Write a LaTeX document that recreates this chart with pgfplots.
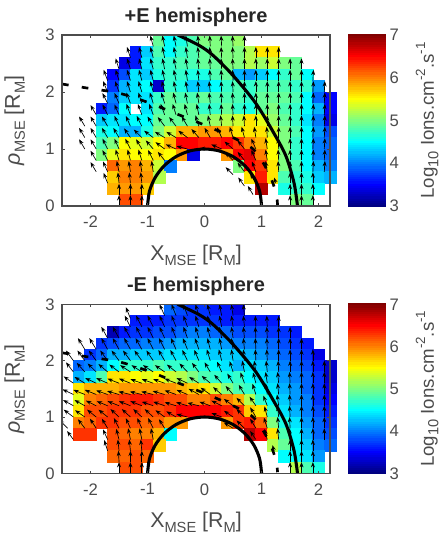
\documentclass[border=0pt]{standalone}
\usepackage{pgfplots}
\usepackage{pgfplotstable}
\usepackage{fontspec}
\setmainfont{Liberation Sans}
\pgfplotsset{compat=1.18}
\usetikzlibrary{arrows.meta}
\definecolor{axgray}{gray}{0.3}
\newcommand\lsub[1]{\raisebox{-0.45ex}{\fontsize{11}{11}\selectfont #1}}
\newcommand\lsup[1]{\raisebox{0.9ex}{\fontsize{10}{10}\selectfont #1}}
% cell values, +E hemisphere
\pgfplotstableread[row sep=\\]{
x y c\\
-0.8 2.9 4.9\\ -0.6 2.9 4.5\\ -0.4 2.9 4.6\\ -0.2 2.9 4.8\\ 0 2.9 5.0\\ 0.2 2.9 5.0\\ 0.4 2.9 5.0\\ 0.6 2.9 5.1\\
-1.2 2.7 3.6\\ -1.0 2.7 4.3\\ -0.8 2.7 4.8\\ -0.6 2.7 4.5\\ -0.4 2.7 4.7\\ -0.2 2.7 4.8\\ 0 2.7 4.9\\ 0.2 2.7 5.0\\ 0.4 2.7 5.0\\ 0.6 2.7 5.0\\ 0.8 2.7 5.2\\ 1.0 2.7 5.6\\ 1.2 2.7 5.6\\
-1.4 2.5 3.4\\ -1.2 2.5 3.6\\ -1.0 2.5 4.4\\ -0.8 2.5 4.7\\ -0.6 2.5 4.7\\ -0.4 2.5 4.8\\ -0.2 2.5 4.8\\ 0 2.5 4.9\\ 0.2 2.5 4.9\\ 0.4 2.5 5.0\\ 0.6 2.5 5.0\\ 0.8 2.5 5.2\\ 1.0 2.5 5.1\\ 1.2 2.5 5.3\\ 1.4 2.5 5.0\\ 1.6 2.5 4.9\\
-1.6 2.3 3.5\\ -1.4 2.3 3.8\\ -1.2 2.3 4.4\\ -1.0 2.3 4.3\\ -0.8 2.3 4.6\\ -0.6 2.3 4.7\\ -0.4 2.3 4.7\\ -0.2 2.3 4.6\\ 0 2.3 4.6\\ 0.2 2.3 4.8\\ 0.4 2.3 4.9\\ 0.6 2.3 4.2\\ 0.8 2.3 4.1\\ 1.0 2.3 4.3\\ 1.2 2.3 4.5\\ 1.4 2.3 4.7\\ 1.6 2.3 4.9\\ 1.8 2.3 4.5\\
-1.6 2.1 3.7\\ -1.4 2.1 4.2\\ -1.2 2.1 4.4\\ -1.0 2.1 4.5\\ -0.8 2.1 3.3\\ -0.6 2.1 4.7\\ -0.4 2.1 4.6\\ -0.2 2.1 4.3\\ 0 2.1 4.3\\ 0.2 2.1 4.5\\ 0.4 2.1 4.7\\ 0.6 2.1 4.8\\ 0.8 2.1 4.7\\ 1.0 2.1 4.8\\ 1.2 2.1 4.8\\ 1.4 2.1 4.8\\ 1.6 2.1 4.7\\ 1.8 2.1 4.7\\ 2.0 2.1 4.1\\
-1.6 1.9 4.0\\ -1.4 1.9 4.3\\ -1.2 1.9 4.4\\ -1.0 1.9 4.4\\ -0.8 1.9 4.7\\ -0.6 1.9 4.9\\ -0.4 1.9 4.8\\ -0.2 1.9 4.8\\ 0 1.9 4.9\\ 0.2 1.9 4.8\\ 0.4 1.9 4.8\\ 0.6 1.9 4.8\\ 0.8 1.9 4.7\\ 1.0 1.9 4.9\\ 1.2 1.9 4.9\\ 1.4 1.9 4.9\\ 1.6 1.9 4.8\\ 1.8 1.9 4.5\\ 2.0 1.9 3.9\\ 2.2 1.9 3.5\\
-1.8 1.7 3.6\\ -1.6 1.7 3.9\\ -1.4 1.7 4.5\\ -1.0 1.7 4.4\\ -0.8 1.7 4.8\\ -0.6 1.7 4.9\\ -0.4 1.7 4.9\\ -0.2 1.7 4.9\\ 0 1.7 4.7\\ 0.2 1.7 4.7\\ 0.4 1.7 4.9\\ 0.6 1.7 4.7\\ 0.8 1.7 4.6\\ 1.0 1.7 4.9\\ 1.2 1.7 5.0\\ 1.4 1.7 4.8\\ 1.6 1.7 4.7\\ 1.8 1.7 4.5\\ 2.0 1.7 4.2\\ 2.2 1.7 3.5\\
-1.8 1.5 4.3\\ -1.6 1.5 4.4\\ -1.4 1.5 4.4\\ -1.2 1.5 4.5\\ -1.0 1.5 4.5\\ -0.8 1.5 4.9\\ -0.6 1.5 4.9\\ -0.4 1.5 4.9\\ -0.2 1.5 4.9\\ 0 1.5 5.0\\ 0.2 1.5 5.1\\ 0.4 1.5 5.2\\ 0.6 1.5 5.3\\ 0.8 1.5 5.6\\ 1.0 1.5 5.4\\ 1.2 1.5 5.1\\ 1.4 1.5 4.9\\ 1.6 1.5 4.7\\ 1.8 1.5 4.4\\ 2.0 1.5 4.0\\ 2.2 1.5 3.4\\
-1.8 1.3 4.6\\ -1.6 1.3 4.5\\ -1.4 1.3 4.2\\ -1.2 1.3 4.2\\ -1.0 1.3 4.6\\ -0.8 1.3 5.0\\ -0.6 1.3 5.3\\ -0.4 1.3 5.8\\ -0.2 1.3 5.8\\ 0 1.3 5.9\\ 0.2 1.3 5.9\\ 0.4 1.3 5.8\\ 0.6 1.3 5.6\\ 0.8 1.3 5.6\\ 1.0 1.3 5.6\\ 1.2 1.3 5.3\\ 1.4 1.3 5.0\\ 1.6 1.3 4.8\\ 1.8 1.3 4.5\\ 2.0 1.3 4.1\\ 2.2 1.3 3.8\\
-1.8 1.1 4.8\\ -1.6 1.1 5.0\\ -1.4 1.1 5.5\\ -1.2 1.1 5.4\\ -1.0 1.1 5.3\\ -0.8 1.1 5.5\\ -0.6 1.1 5.8\\ -0.4 1.1 6.5\\ -0.2 1.1 6.5\\ 0 1.1 6.4\\ 0.2 1.1 6.4\\ 0.4 1.1 6.5\\ 0.6 1.1 6.3\\ 0.8 1.1 6.0\\ 1.0 1.1 5.8\\ 1.2 1.1 5.5\\ 1.4 1.1 5.0\\ 1.6 1.1 4.7\\ 1.8 1.1 4.5\\ 2.0 1.1 4.0\\ 2.2 1.1 3.9\\
-1.8 0.9 5.0\\ -1.6 0.9 5.4\\ -1.4 0.9 5.6\\ -1.2 0.9 5.5\\ -1.0 0.9 5.5\\ -0.8 0.9 5.6\\ -0.6 0.9 5.5\\ -0.4 0.9 5.9\\ -0.2 0.9 3.4\\ 0.4 0.9 5.9\\ 0.6 0.9 6.5\\ 0.8 0.9 6.6\\ 1.0 0.9 6.0\\ 1.2 0.9 5.5\\ 1.4 0.9 5.0\\ 1.6 0.9 4.7\\ 1.8 0.9 4.5\\ 2.0 0.9 4.0\\ 2.2 0.9 3.9\\
-1.6 0.7 6.1\\ -1.4 0.7 5.9\\ -1.2 0.7 6.0\\ -1.0 0.7 5.8\\ -0.8 0.7 5.3\\ -0.6 0.7 4.0\\ 0.6 0.7 5.0\\ 0.8 0.7 6.5\\ 1.0 0.7 6.3\\ 1.2 0.7 5.6\\ 1.4 0.7 5.0\\ 1.6 0.7 4.8\\ 1.8 0.7 4.5\\ 2.0 0.7 4.2\\ 2.2 0.7 4.0\\
-1.6 0.5 5.7\\ -1.4 0.5 6.0\\ -1.2 0.5 6.0\\ -1.0 0.5 5.9\\ -0.8 0.5 5.2\\ 0.8 0.5 5.6\\ 1.0 0.5 6.4\\ 1.2 0.5 5.6\\ 1.4 0.5 4.8\\ 1.6 0.5 4.7\\ 1.8 0.5 4.6\\ 2.0 0.5 4.3\\ 2.2 0.5 4.2\\
-1.6 0.3 5.8\\ -1.4 0.3 5.9\\ -1.2 0.3 5.9\\ -1.0 0.3 5.7\\ 1.0 0.3 6.8\\ 1.4 0.3 4.6\\ 1.6 0.3 4.7\\ 1.8 0.3 4.7\\ 2.0 0.3 4.5\\
-1.4 0.1 6.2\\ -1.2 0.1 6.2\\ 1.6 0.1 5.0\\ 1.8 0.1 4.9\\
}\cellsA
% cell values, -E hemisphere
\pgfplotstableread[row sep=\\]{
x y c\\
-0.6 2.9 3.9\\ -0.4 2.9 3.8\\ -0.2 2.9 3.7\\ 0 2.9 3.7\\ 0.2 2.9 3.6\\ 0.4 2.9 3.6\\ 0.6 2.9 3.4\\
-1.2 2.7 3.6\\ -1.0 2.7 3.6\\ -0.8 2.7 3.6\\ -0.6 2.7 3.7\\ -0.4 2.7 3.7\\ -0.2 2.7 3.7\\ 0 2.7 3.7\\ 0.2 2.7 3.7\\ 0.4 2.7 3.6\\ 0.6 2.7 3.6\\ 0.8 2.7 3.6\\ 1.0 2.7 3.6\\ 1.2 2.7 3.6\\
-1.6 2.5 3.2\\ -1.4 2.5 3.6\\ -1.2 2.5 3.7\\ -1.0 2.5 3.7\\ -0.8 2.5 3.8\\ -0.6 2.5 3.8\\ -0.4 2.5 3.9\\ -0.2 2.5 4.0\\ 0 2.5 4.0\\ 0.2 2.5 3.9\\ 0.4 2.5 3.9\\ 0.6 2.5 3.8\\ 0.8 2.5 3.8\\ 1.0 2.5 3.8\\ 1.2 2.5 3.7\\ 1.4 2.5 3.7\\ 1.6 2.5 3.6\\
-1.8 2.3 3.7\\ -1.6 2.3 3.8\\ -1.4 2.3 3.9\\ -1.2 2.3 3.9\\ -1.0 2.3 4.0\\ -0.8 2.3 4.0\\ -0.6 2.3 4.1\\ -0.4 2.3 4.2\\ -0.2 2.3 4.2\\ 0 2.3 4.2\\ 0.2 2.3 4.2\\ 0.4 2.3 4.1\\ 0.6 2.3 4.0\\ 0.8 2.3 4.0\\ 1.0 2.3 4.0\\ 1.2 2.3 3.9\\ 1.4 2.3 3.8\\ 1.6 2.3 3.7\\ 1.8 2.3 3.6\\
-2.0 2.1 3.7\\ -1.8 2.1 3.9\\ -1.6 2.1 4.2\\ -1.4 2.1 4.2\\ -1.2 2.1 4.3\\ -1.0 2.1 4.3\\ -0.8 2.1 4.3\\ -0.6 2.1 4.4\\ -0.4 2.1 4.4\\ -0.2 2.1 4.4\\ 0 2.1 4.4\\ 0.2 2.1 4.3\\ 0.4 2.1 4.3\\ 0.6 2.1 4.3\\ 0.8 2.1 4.2\\ 1.0 2.1 4.1\\ 1.2 2.1 4.0\\ 1.4 2.1 3.9\\ 1.6 2.1 3.8\\ 1.8 2.1 3.7\\ 2.0 2.1 3.4\\
-2.2 1.9 3.9\\ -2.0 1.9 4.0\\ -1.8 1.9 4.2\\ -1.6 1.9 4.5\\ -1.4 1.9 4.7\\ -1.2 1.9 4.7\\ -1.0 1.9 4.7\\ -0.8 1.9 4.8\\ -0.6 1.9 4.7\\ -0.4 1.9 4.7\\ -0.2 1.9 4.7\\ 0 1.9 4.6\\ 0.2 1.9 4.5\\ 0.4 1.9 4.4\\ 0.6 1.9 4.2\\ 0.8 1.9 4.4\\ 1.0 1.9 4.3\\ 1.2 1.9 4.2\\ 1.4 1.9 4.0\\ 1.6 1.9 3.9\\ 1.8 1.9 3.8\\ 2.0 1.9 3.6\\ 2.2 1.9 3.3\\
-2.2 1.7 4.2\\ -2.0 1.7 4.4\\ -1.8 1.7 4.8\\ -1.6 1.7 5.6\\ -1.4 1.7 5.6\\ -1.2 1.7 5.5\\ -1.0 1.7 5.4\\ -0.8 1.7 5.5\\ -0.6 1.7 5.3\\ -0.4 1.7 5.2\\ -0.2 1.7 5.0\\ 0 1.7 4.8\\ 0.2 1.7 4.7\\ 0.4 1.7 4.6\\ 0.6 1.7 4.7\\ 0.8 1.7 4.5\\ 1.0 1.7 4.4\\ 1.2 1.7 4.3\\ 1.4 1.7 4.1\\ 1.6 1.7 4.0\\ 1.8 1.7 3.9\\ 2.0 1.7 3.7\\ 2.2 1.7 3.3\\
-2.2 1.5 5.6\\ -2.0 1.5 5.8\\ -1.8 1.5 5.8\\ -1.6 1.5 5.8\\ -1.4 1.5 5.9\\ -1.2 1.5 5.9\\ -1.0 1.5 5.9\\ -0.8 1.5 5.9\\ -0.6 1.5 5.9\\ -0.4 1.5 5.8\\ -0.2 1.5 5.7\\ 0 1.5 5.6\\ 0.2 1.5 5.3\\ 0.4 1.5 5.0\\ 0.6 1.5 4.8\\ 0.8 1.5 4.7\\ 1.0 1.5 4.5\\ 1.2 1.5 4.4\\ 1.4 1.5 4.2\\ 1.6 1.5 4.1\\ 1.8 1.5 3.9\\ 2.0 1.5 3.7\\ 2.2 1.5 3.4\\
-2.2 1.3 5.4\\ -2.0 1.3 6.0\\ -1.8 1.3 6.1\\ -1.6 1.3 6.2\\ -1.4 1.3 6.3\\ -1.2 1.3 6.4\\ -1.0 1.3 6.4\\ -0.8 1.3 6.3\\ -0.6 1.3 6.2\\ -0.4 1.3 6.2\\ -0.2 1.3 6.0\\ 0 1.3 6.0\\ 0.2 1.3 6.2\\ 0.4 1.3 6.0\\ 0.6 1.3 5.8\\ 0.8 1.3 5.2\\ 1.0 1.3 4.7\\ 1.2 1.3 4.5\\ 1.4 1.3 4.3\\ 1.6 1.3 4.1\\ 1.8 1.3 4.0\\ 2.0 1.3 3.7\\ 2.2 1.3 3.5\\
-2.2 1.1 5.6\\ -2.0 1.1 6.2\\ -1.8 1.1 6.2\\ -1.6 1.1 6.3\\ -1.4 1.1 6.3\\ -1.2 1.1 6.3\\ -1.0 1.1 6.2\\ -0.8 1.1 6.2\\ -0.6 1.1 6.3\\ -0.4 1.1 6.5\\ -0.2 1.1 6.5\\ 0 1.1 6.5\\ 0.2 1.1 6.5\\ 0.4 1.1 6.4\\ 0.6 1.1 6.3\\ 0.8 1.1 5.7\\ 1.0 1.1 5.6\\ 1.2 1.1 4.7\\ 1.4 1.1 4.4\\ 1.6 1.1 4.2\\ 1.8 1.1 4.0\\ 2.0 1.1 3.8\\ 2.2 1.1 3.6\\
-2.2 0.9 6.0\\ -2.0 0.9 6.1\\ -1.8 0.9 6.3\\ -1.6 0.9 6.3\\ -1.4 0.9 6.2\\ -1.2 0.9 6.2\\ -1.0 0.9 6.1\\ -0.8 0.9 6.1\\ -0.6 0.9 5.9\\ -0.4 0.9 5.9\\ 0.4 0.9 5.9\\ 0.6 0.9 6.3\\ 0.8 0.9 6.4\\ 1.0 0.9 6.1\\ 1.2 0.9 5.0\\ 1.4 0.9 4.6\\ 1.6 0.9 4.4\\ 1.8 0.9 4.1\\ 2.0 0.9 3.9\\ 2.2 0.9 3.7\\
-2.2 0.7 6.3\\ -2.0 0.7 6.3\\ -1.6 0.7 6.2\\ -1.4 0.7 6.1\\ -1.2 0.7 6.0\\ -1.0 0.7 6.0\\ -0.8 0.7 5.8\\ -0.6 0.7 4.5\\ 0.8 0.7 6.8\\ 1.0 0.7 6.5\\ 1.2 0.7 5.6\\ 1.4 0.7 4.8\\ 1.6 0.7 4.5\\ 1.8 0.7 4.2\\ 2.0 0.7 3.9\\ 2.2 0.7 3.8\\
-1.6 0.5 6.2\\ -1.4 0.5 6.2\\ -1.2 0.5 6.1\\ -1.0 0.5 6.3\\ -0.8 0.5 5.7\\ 1.2 0.5 5.2\\ 1.4 0.5 4.9\\ 1.6 0.5 4.5\\ 1.8 0.5 4.3\\ 2.0 0.5 4.0\\ 2.2 0.5 3.9\\
-1.6 0.3 6.1\\ -1.4 0.3 6.1\\ -1.2 0.3 6.2\\ -1.0 0.3 6.1\\ 1.4 0.3 4.5\\ 1.6 0.3 4.5\\ 1.8 0.3 4.4\\ 2.0 0.3 4.1\\
-1.4 0.1 6.2\\ -1.2 0.1 6.2\\ 1.6 0.1 5.2\\ 1.8 0.1 4.8\\ 2.0 0.1 4.6\\
}\cellsB
% flow arrows, +E hemisphere
\pgfplotstableread[row sep=\\]{
x y u v\\
-0.9 2.8 -0.05 0.19\\ -0.7 2.8 -0.04 0.19\\ -0.5 2.8 -0.04 0.19\\ -0.3 2.8 -0.03 0.19\\ -0.1 2.8 -0.02 0.19\\ 0.1 2.8 -0.01 0.19\\ 0.3 2.8 -0.01 0.19\\ 0.5 2.8 -0.01 0.19\\ 0.7 2.8 0 0.19\\
-1.3 2.6 -0.06 0.19\\ -1.1 2.6 -0.05 0.19\\ -0.9 2.6 -0.05 0.19\\ -0.7 2.6 -0.04 0.19\\ -0.5 2.6 -0.04 0.19\\ -0.3 2.6 -0.03 0.19\\ -0.1 2.6 -0.02 0.19\\ 0.1 2.6 -0.01 0.19\\ 0.3 2.6 -0.01 0.19\\ 0.5 2.6 -0.01 0.19\\ 0.7 2.6 0 0.19\\ 0.9 2.6 0 0.19\\ 1.1 2.6 0 0.19\\ 1.3 2.6 0 0.19\\
-1.5 2.4 -0.06 0.19\\ -1.3 2.4 -0.06 0.19\\ -1.1 2.4 -0.05 0.19\\ -0.9 2.4 -0.05 0.19\\ -0.7 2.4 -0.04 0.19\\ -0.5 2.4 -0.04 0.19\\ -0.3 2.4 -0.03 0.19\\ -0.1 2.4 -0.02 0.19\\ 0.1 2.4 -0.01 0.19\\ 0.3 2.4 -0.01 0.19\\ 0.5 2.4 -0.01 0.19\\ 0.7 2.4 0 0.19\\ 0.9 2.4 0 0.19\\ 1.1 2.4 0 0.19\\ 1.3 2.4 0 0.19\\ 1.5 2.4 0 0.19\\ 1.7 2.4 0 0.19\\
-1.7 2.2 -0.07 0.19\\ -1.5 2.2 -0.06 0.19\\ -1.3 2.2 -0.06 0.19\\ -1.1 2.2 -0.05 0.19\\ -0.9 2.2 -0.05 0.19\\ -0.7 2.2 -0.04 0.19\\ -0.5 2.2 -0.04 0.19\\ -0.3 2.2 -0.03 0.19\\ -0.1 2.2 -0.02 0.19\\ 0.1 2.2 -0.01 0.19\\ 0.3 2.2 -0.01 0.19\\ 0.5 2.2 -0.01 0.19\\ 0.7 2.2 0 0.19\\ 0.9 2.2 0 0.19\\ 1.1 2.2 0 0.19\\ 1.3 2.2 0 0.19\\ 1.5 2.2 0 0.19\\ 1.7 2.2 0 0.19\\ 1.9 2.2 0.01 0.19\\
-1.7 2.0 -0.08 0.19\\ -1.5 2.0 -0.07 0.19\\ -1.3 2.0 -0.06 0.19\\ -1.1 2.0 -0.06 0.19\\ -0.9 2.0 -0.05 0.19\\ -0.7 2.0 -0.05 0.19\\ -0.5 2.0 -0.04 0.19\\ -0.3 2.0 -0.03 0.19\\ -0.1 2.0 -0.02 0.19\\ 0.1 2.0 -0.02 0.19\\ 0.3 2.0 -0.01 0.19\\ 0.5 2.0 -0.01 0.19\\ 0.7 2.0 0 0.19\\ 0.9 2.0 0 0.19\\ 1.1 2.0 0 0.19\\ 1.3 2.0 0 0.19\\ 1.5 2.0 0 0.19\\ 1.7 2.0 0 0.19\\ 1.9 2.0 0.01 0.19\\ 2.1 2.0 0.01 0.19\\
-1.7 1.8 -0.09 0.18\\ -1.5 1.8 -0.08 0.18\\ -1.3 1.8 -0.07 0.19\\ -1.1 1.8 -0.06 0.19\\ -0.9 1.8 -0.06 0.19\\ -0.7 1.8 -0.06 0.19\\ -0.5 1.8 -0.05 0.19\\ -0.3 1.8 -0.04 0.19\\ -0.1 1.8 -0.03 0.19\\ 0.1 1.8 -0.02 0.19\\ 0.3 1.8 -0.01 0.19\\ 0.5 1.8 -0.01 0.19\\ 0.7 1.8 0 0.19\\ 0.9 1.8 0 0.19\\ 1.1 1.8 0 0.19\\ 1.3 1.8 0 0.19\\ 1.5 1.8 0 0.19\\ 1.7 1.8 0 0.19\\ 1.9 1.8 0.01 0.19\\ 2.1 1.8 0.01 0.19\\
-1.9 1.6 -0.1 0.17\\ -1.7 1.6 -0.09 0.18\\ -1.5 1.6 -0.08 0.18\\ -1.3 1.6 -0.07 0.19\\ -1.1 1.6 -0.07 0.19\\ -0.9 1.6 -0.07 0.19\\ -0.7 1.6 -0.07 0.19\\ -0.5 1.6 -0.06 0.19\\ -0.3 1.6 -0.05 0.19\\ -0.1 1.6 -0.04 0.19\\ 0.1 1.6 -0.02 0.19\\ 0.3 1.6 -0.01 0.19\\ 0.5 1.6 -0.01 0.19\\ 0.7 1.6 0 0.19\\ 0.9 1.6 0 0.19\\ 1.1 1.6 0 0.19\\ 1.3 1.6 0 0.19\\ 1.5 1.6 0 0.19\\ 1.7 1.6 0 0.19\\ 1.9 1.6 0.01 0.19\\ 2.1 1.6 0.01 0.19\\
-2.1 1.4 -0.1 0.17\\ -1.9 1.4 -0.1 0.17\\ -1.7 1.4 -0.1 0.17\\ -1.5 1.4 -0.08 0.18\\ -1.3 1.4 -0.08 0.18\\ -1.1 1.4 -0.09 0.18\\ -0.9 1.4 -0.1 0.17\\ -0.7 1.4 -0.12 0.16\\ -0.5 1.4 -0.12 0.16\\ -0.3 1.4 -0.1 0.17\\ -0.1 1.4 -0.06 0.19\\ 0.1 1.4 -0.04 0.19\\ 0.3 1.4 -0.02 0.19\\ 0.5 1.4 -0.01 0.19\\ 0.7 1.4 -0.01 0.19\\ 0.9 1.4 0 0.19\\ 1.1 1.4 0 0.19\\ 1.3 1.4 0 0.19\\ 1.5 1.4 0 0.19\\ 1.7 1.4 0 0.19\\ 1.9 1.4 0.01 0.19\\ 2.1 1.4 0.01 0.19\\
-2.1 1.2 -0.1 0.17\\ -1.9 1.2 -0.1 0.17\\ -1.7 1.2 -0.1 0.17\\ -1.5 1.2 -0.1 0.17\\ -1.3 1.2 -0.11 0.16\\ -1.1 1.2 -0.14 0.14\\ -0.9 1.2 -0.16 0.12\\ -0.7 1.2 -0.17 0.1\\ -0.5 1.2 -0.17 0.1\\ -0.3 1.2 -0.16 0.12\\ -0.1 1.2 -0.13 0.15\\ 0.1 1.2 -0.1 0.17\\ 0.3 1.2 -0.08 0.18\\ 0.5 1.2 -0.06 0.19\\ 0.7 1.2 -0.05 0.19\\ 0.9 1.2 -0.03 0.19\\ 1.1 1.2 -0.01 0.19\\ 1.3 1.2 0 0.19\\ 1.5 1.2 0 0.19\\ 1.7 1.2 0 0.19\\ 1.9 1.2 0.01 0.19\\ 2.1 1.2 0.01 0.19\\
-2.1 1.0 -0.1 0.17\\ -1.9 1.0 -0.1 0.17\\ -1.7 1.0 -0.09 0.18\\ -1.5 1.0 -0.08 0.18\\ -1.3 1.0 -0.09 0.18\\ -1.1 1.0 -0.1 0.17\\ -0.9 1.0 -0.13 0.15\\ -0.7 1.0 -0.16 0.12\\ -0.5 1.0 -0.18 0.08\\ -0.3 1.0 -0.19 0.05\\ 0.1 1.0 -0.19 0.01\\ 0.3 1.0 -0.18 0.08\\ 0.5 1.0 -0.15 0.13\\ 0.7 1.0 -0.12 0.15\\ 0.9 1.0 -0.08 0.18\\ 1.1 1.0 -0.03 0.19\\ 1.3 1.0 -0.01 0.19\\ 1.5 1.0 0 0.19\\ 1.7 1.0 0 0.19\\ 1.9 1.0 0.01 0.19\\ 2.1 1.0 0.01 0.19\\
-1.9 0.8 -0.1 0.17\\ -1.7 0.8 -0.09 0.18\\ -1.5 0.8 -0.06 0.19\\ -1.3 0.8 -0.05 0.19\\ -1.1 0.8 -0.06 0.19\\ -0.9 0.8 -0.09 0.18\\ -0.7 0.8 -0.12 0.15\\ 0.5 0.8 -0.14 0.14\\ 0.7 0.8 -0.12 0.15\\ 0.9 0.8 -0.08 0.18\\ 1.1 0.8 -0.03 0.19\\ 1.3 0.8 -0.01 0.19\\ 1.5 0.8 0 0.19\\ 1.7 0.8 0 0.19\\ 1.9 0.8 0.01 0.19\\ 2.1 0.8 0.01 0.19\\
-1.9 0.6 -0.1 0.17\\ -1.7 0.6 -0.08 0.18\\ -1.5 0.6 -0.04 0.19\\ -1.3 0.6 -0.03 0.19\\ -1.1 0.6 -0.03 0.19\\ -0.9 0.6 -0.03 0.19\\ 0.5 0.55 -0.13 0.13\\ 0.7 0.6 -0.12 0.16\\ 0.9 0.6 -0.07 0.18\\ 1.1 0.6 -0.03 0.19\\ 1.3 0.6 -0.01 0.19\\ 1.5 0.6 0 0.19\\ 1.7 0.6 0 0.19\\ 1.9 0.6 0.01 0.19\\ 2.1 0.6 0.01 0.19\\
-1.7 0.4 -0.07 0.18\\ -1.5 0.4 -0.02 0.19\\ -1.3 0.4 -0.02 0.19\\ -1.1 0.4 -0.02 0.19\\ 0.7 0.35 -0.11 0.15\\ 0.9 0.4 -0.1 0.17\\ 1.25 0.4 -0.03 0.1\\ 1.5 0.4 0 0.19\\ 1.7 0.4 0 0.19\\ 1.9 0.4 0 0.19\\
-1.5 0.2 0 0.19\\ -1.3 0.2 0 0.19\\ -1.1 0.2 0 0.19\\ 0.85 0.2 -0.09 0.15\\ 1.5 0.2 0 0.19\\ 1.7 0.2 0 0.19\\ 1.9 0.2 0 0.19\\
-1.5 0 0 0.19\\ -1.3 0 0 0.19\\ -1.1 0 0 0.19\\ 1.5 0 0 0.19\\ 1.7 0 0 0.19\\ 1.9 0 0 0.19\\
}\arrowsA
% flow arrows, -E hemisphere
\pgfplotstableread[row sep=\\]{
x y u v\\
-1.3 2.75 -0.08 0.2\\ -0.7 2.8 -0.09 0.2\\ -0.5 2.8 -0.08 0.2\\ -0.3 2.8 -0.07 0.2\\ -0.1 2.8 -0.06 0.2\\ 0.1 2.8 -0.05 0.2\\ 0.3 2.8 -0.04 0.2\\ 0.5 2.8 -0.03 0.2\\ 0.7 2.8 -0.02 0.2\\
-1.3 2.6 -0.1 0.2\\ -1.1 2.6 -0.1 0.2\\ -0.9 2.6 -0.1 0.2\\ -0.7 2.6 -0.09 0.2\\ -0.5 2.6 -0.08 0.2\\ -0.3 2.6 -0.07 0.2\\ -0.1 2.6 -0.06 0.2\\ 0.1 2.6 -0.05 0.2\\ 0.3 2.6 -0.04 0.2\\ 0.5 2.6 -0.03 0.2\\ 0.7 2.6 -0.02 0.2\\ 0.9 2.6 -0.01 0.2\\ 1.1 2.6 -0.01 0.2\\ 1.3 2.6 0 0.2\\
-1.7 2.4 -0.11 0.2\\ -1.5 2.4 -0.11 0.2\\ -1.3 2.4 -0.11 0.2\\ -1.1 2.4 -0.1 0.2\\ -0.9 2.4 -0.1 0.2\\ -0.7 2.4 -0.09 0.2\\ -0.5 2.4 -0.08 0.2\\ -0.3 2.4 -0.07 0.2\\ -0.1 2.4 -0.06 0.2\\ 0.1 2.4 -0.05 0.2\\ 0.3 2.4 -0.04 0.2\\ 0.5 2.4 -0.03 0.2\\ 0.7 2.4 -0.02 0.2\\ 0.9 2.4 -0.01 0.2\\ 1.1 2.4 -0.01 0.2\\ 1.3 2.4 0 0.2\\ 1.5 2.4 0 0.2\\
-2.1 2.2 -0.12 0.2\\ -1.9 2.2 -0.12 0.2\\ -1.7 2.2 -0.11 0.2\\ -1.5 2.2 -0.11 0.2\\ -1.3 2.2 -0.11 0.2\\ -1.1 2.2 -0.11 0.2\\ -0.9 2.2 -0.1 0.2\\ -0.7 2.2 -0.1 0.2\\ -0.5 2.2 -0.09 0.2\\ -0.3 2.2 -0.08 0.2\\ -0.1 2.2 -0.07 0.2\\ 0.1 2.2 -0.05 0.2\\ 0.3 2.2 -0.04 0.2\\ 0.5 2.2 -0.03 0.2\\ 0.7 2.2 -0.02 0.2\\ 0.9 2.2 -0.01 0.2\\ 1.1 2.2 -0.01 0.2\\ 1.3 2.2 0 0.2\\ 1.5 2.2 0 0.2\\ 1.7 2.2 0 0.2\\
-2.3 2.0 -0.13 0.18\\ -2.1 2.0 -0.13 0.18\\ -1.9 2.0 -0.13 0.18\\ -1.7 2.0 -0.13 0.18\\ -1.5 2.0 -0.13 0.18\\ -1.3 2.0 -0.13 0.18\\ -1.1 2.0 -0.13 0.18\\ -0.9 2.0 -0.12 0.18\\ -0.7 2.0 -0.11 0.19\\ -0.5 2.0 -0.1 0.19\\ -0.3 2.0 -0.09 0.19\\ -0.1 2.0 -0.08 0.19\\ 0.1 2.0 -0.06 0.2\\ 0.3 2.0 -0.05 0.2\\ 0.5 2.0 -0.03 0.2\\ 0.7 2.0 -0.02 0.2\\ 0.9 2.0 -0.01 0.2\\ 1.1 2.0 -0.01 0.2\\ 1.3 2.0 0 0.2\\ 1.5 2.0 0 0.2\\ 1.7 2.0 0 0.2\\ 1.9 2.0 0 0.2\\
-2.3 1.8 -0.13 0.17\\ -2.1 1.8 -0.14 0.16\\ -1.9 1.8 -0.15 0.15\\ -1.7 1.8 -0.16 0.14\\ -1.5 1.8 -0.17 0.13\\ -1.3 1.8 -0.18 0.12\\ -1.1 1.8 -0.18 0.12\\ -0.9 1.8 -0.18 0.12\\ -0.7 1.8 -0.17 0.12\\ -0.5 1.8 -0.16 0.13\\ -0.3 1.8 -0.14 0.15\\ -0.1 1.8 -0.12 0.16\\ 0.1 1.8 -0.1 0.17\\ 0.3 1.8 -0.08 0.18\\ 0.5 1.8 -0.06 0.19\\ 0.7 1.8 -0.04 0.2\\ 0.9 1.8 -0.03 0.2\\ 1.1 1.8 -0.02 0.2\\ 1.3 1.8 -0.01 0.2\\ 1.5 1.8 0 0.2\\ 1.7 1.8 0 0.2\\ 1.9 1.8 0 0.2\\ 2.1 1.8 0 0.2\\
-2.3 1.6 -0.17 0.12\\ -2.1 1.6 -0.18 0.11\\ -1.9 1.6 -0.19 0.09\\ -1.7 1.6 -0.2 0.09\\ -1.5 1.6 -0.2 0.08\\ -1.3 1.6 -0.2 0.08\\ -1.1 1.6 -0.2 0.07\\ -0.9 1.6 -0.2 0.07\\ -0.7 1.6 -0.2 0.07\\ -0.5 1.6 -0.2 0.08\\ -0.3 1.6 -0.19 0.09\\ -0.1 1.6 -0.17 0.11\\ 0.1 1.6 -0.15 0.13\\ 0.3 1.6 -0.13 0.15\\ 0.5 1.6 -0.1 0.17\\ 0.7 1.6 -0.07 0.19\\ 0.9 1.6 -0.05 0.19\\ 1.1 1.6 -0.03 0.2\\ 1.3 1.6 -0.02 0.2\\ 1.5 1.6 -0.01 0.2\\ 1.7 1.6 0 0.2\\ 1.9 1.6 0 0.2\\ 2.1 1.6 0 0.2\\
-2.5 1.4 -0.18 0.1\\ -2.3 1.4 -0.19 0.09\\ -2.1 1.4 -0.2 0.08\\ -1.9 1.4 -0.2 0.08\\ -1.7 1.4 -0.2 0.07\\ -1.5 1.4 -0.21 0.06\\ -1.3 1.4 -0.21 0.05\\ -1.1 1.4 -0.21 0.05\\ -0.9 1.4 -0.21 0.05\\ -0.7 1.4 -0.21 0.06\\ -0.5 1.4 -0.2 0.07\\ -0.3 1.4 -0.19 0.08\\ -0.1 1.4 -0.18 0.1\\ 0.1 1.4 -0.17 0.12\\ 0.3 1.4 -0.15 0.13\\ 0.5 1.4 -0.13 0.15\\ 0.7 1.4 -0.1 0.17\\ 0.9 1.4 -0.06 0.19\\ 1.1 1.4 -0.03 0.2\\ 1.3 1.4 -0.02 0.2\\ 1.5 1.4 -0.01 0.2\\ 1.7 1.4 0 0.2\\ 1.9 1.4 0 0.2\\ 2.1 1.4 0 0.2\\
-2.5 1.2 -0.18 0.11\\ -2.3 1.2 -0.18 0.1\\ -2.1 1.2 -0.18 0.1\\ -1.9 1.2 -0.18 0.09\\ -1.7 1.2 -0.19 0.08\\ -1.5 1.2 -0.2 0.08\\ -1.3 1.2 -0.2 0.08\\ -1.1 1.2 -0.2 0.08\\ -0.9 1.2 -0.2 0.07\\ -0.7 1.2 -0.2 0.07\\ -0.5 1.2 -0.2 0.06\\ -0.3 1.2 -0.2 0.06\\ -0.1 1.2 -0.2 0.05\\ 0.1 1.2 -0.19 0.07\\ 0.3 1.2 -0.18 0.09\\ 0.5 1.2 -0.16 0.12\\ 0.7 1.2 -0.14 0.14\\ 0.9 1.2 -0.11 0.16\\ 1.1 1.2 -0.07 0.18\\ 1.3 1.2 -0.03 0.2\\ 1.5 1.2 -0.01 0.2\\ 1.7 1.2 0 0.2\\ 1.9 1.2 0 0.2\\ 2.1 1.2 0 0.2\\
-2.5 1.0 -0.17 0.13\\ -2.3 1.0 -0.17 0.13\\ -2.1 1.0 -0.17 0.12\\ -1.9 1.0 -0.16 0.13\\ -1.7 1.0 -0.16 0.13\\ -1.5 1.0 -0.15 0.14\\ -1.3 1.0 -0.15 0.14\\ -1.1 1.0 -0.15 0.14\\ -0.9 1.0 -0.15 0.14\\ -0.7 1.0 -0.16 0.12\\ -0.5 1.0 -0.17 0.1\\ -0.3 1.0 -0.19 0.05\\ 0.3 1.0 -0.18 0.07\\ 0.5 1.0 -0.16 0.11\\ 0.7 1.0 -0.14 0.14\\ 0.9 1.0 -0.1 0.17\\ 1.1 1.0 -0.05 0.19\\ 1.3 1.0 -0.02 0.2\\ 1.5 1.0 -0.01 0.2\\ 1.7 1.0 0 0.2\\ 1.9 1.0 0 0.2\\ 2.1 1.0 0 0.2\\
-2.4 0.8 -0.15 0.15\\ -2.1 0.8 -0.12 0.16\\ -1.9 0.8 -0.11 0.17\\ -1.7 0.8 -0.1 0.17\\ -1.5 0.8 -0.09 0.18\\ -1.3 0.8 -0.08 0.18\\ -1.1 0.8 -0.08 0.18\\ -0.9 0.8 -0.09 0.18\\ -0.7 0.8 -0.1 0.16\\ 0.5 0.8 -0.16 0.1\\ 0.7 0.8 -0.14 0.14\\ 0.9 0.8 -0.1 0.17\\ 1.1 0.8 -0.06 0.19\\ 1.3 0.8 -0.02 0.2\\ 1.5 0.8 -0.01 0.2\\ 1.7 0.8 0 0.2\\ 1.9 0.8 0 0.2\\ 2.1 0.8 0 0.2\\
-2.3 0.6 -0.11 0.15\\ -1.7 0.6 -0.08 0.18\\ -1.5 0.6 -0.05 0.19\\ -1.3 0.6 -0.04 0.2\\ -1.1 0.6 -0.04 0.2\\ -0.9 0.6 -0.04 0.2\\ 0.9 0.6 -0.1 0.15\\ 1.1 0.6 -0.05 0.19\\ 1.3 0.6 -0.02 0.2\\ 1.5 0.6 -0.01 0.2\\ 1.7 0.6 0 0.2\\ 1.9 0.6 0 0.2\\ 2.1 0.6 0 0.2\\
-1.7 0.4 -0.06 0.19\\ -1.5 0.4 -0.02 0.2\\ -1.3 0.4 -0.02 0.2\\ -1.1 0.4 -0.02 0.2\\ 1.22 0.4 -0.03 0.1\\ 1.5 0.4 0 0.2\\ 1.7 0.4 0 0.2\\ 1.9 0.4 0 0.2\\
-1.5 0.2 -0.01 0.2\\ -1.3 0.2 0 0.2\\ -1.1 0.2 0 0.2\\ 1.5 0.2 0 0.2\\ 1.7 0.2 0 0.2\\ 1.9 0.2 0 0.2\\
-1.5 0 0 0.2\\ -1.3 0 0 0.2\\ -1.1 0 0 0.2\\ 1.5 0 0 0.2\\ 1.7 0 0 0.2\\ 1.9 0 0 0.2\\
}\arrowsB
% colour scale levels
\pgfplotstableread[row sep=\\]{
x y\\
0.5 3.00\\ 0.5 3.05\\ 0.5 3.10\\ 0.5 3.15\\ 0.5 3.20\\ 0.5 3.25\\ 0.5 3.30\\ 0.5 3.35\\ 0.5 3.40\\ 0.5 3.45\\ 0.5 3.50\\ 0.5 3.55\\ 0.5 3.60\\ 0.5 3.65\\ 0.5 3.70\\ 0.5 3.75\\ 0.5 3.80\\ 0.5 3.85\\ 0.5 3.90\\ 0.5 3.95\\
0.5 4.00\\ 0.5 4.05\\ 0.5 4.10\\ 0.5 4.15\\ 0.5 4.20\\ 0.5 4.25\\ 0.5 4.30\\ 0.5 4.35\\ 0.5 4.40\\ 0.5 4.45\\ 0.5 4.50\\ 0.5 4.55\\ 0.5 4.60\\ 0.5 4.65\\ 0.5 4.70\\ 0.5 4.75\\ 0.5 4.80\\ 0.5 4.85\\ 0.5 4.90\\ 0.5 4.95\\
0.5 5.00\\ 0.5 5.05\\ 0.5 5.10\\ 0.5 5.15\\ 0.5 5.20\\ 0.5 5.25\\ 0.5 5.30\\ 0.5 5.35\\ 0.5 5.40\\ 0.5 5.45\\ 0.5 5.50\\ 0.5 5.55\\ 0.5 5.60\\ 0.5 5.65\\ 0.5 5.70\\ 0.5 5.75\\ 0.5 5.80\\ 0.5 5.85\\ 0.5 5.90\\ 0.5 5.95\\
0.5 6.00\\ 0.5 6.05\\ 0.5 6.10\\ 0.5 6.15\\ 0.5 6.20\\ 0.5 6.25\\ 0.5 6.30\\ 0.5 6.35\\ 0.5 6.40\\ 0.5 6.45\\ 0.5 6.50\\ 0.5 6.55\\ 0.5 6.60\\ 0.5 6.65\\ 0.5 6.70\\ 0.5 6.75\\ 0.5 6.80\\ 0.5 6.85\\ 0.5 6.90\\ 0.5 6.95\\ 0.5 7.00\\
}\levels
\pgfplotsset{
  flux/.style={
    scale only axis, width=201pt, xmin=-2.5, xmax=2.2, ymin=0, ymax=3,
    clip mode=individual,
    xtick={-2,-1,0,1,2}, xticklabels={-2,-1,0,1,2},
    ytick={0,1,2,3}, yticklabels={0,1,2,3},
    axis line style={axgray,line width=0.8pt},
    tick style={axgray,line width=0.5pt}, major tick length=2pt, tick align=inside,
    tick label style={font=\fontsize{12.5}{14}\selectfont,text=axgray},
    xtick pos=both, ytick pos=both,
    xticklabel pos=bottom, yticklabel pos=left,
    x tick label style={yshift=-4pt},
    y tick label style={xshift=-2pt},
    xlabel={X\lsub{MSE} [R\lsub{M}]},
    ylabel={\textit{ρ}\lsub{MSE} [R\lsub{M}]},
    xlabel style={font=\fontsize{16}{18}\selectfont,text=axgray,at={(axis description cs:0.5,-0.2)},anchor=north},
    ylabel style={font=\fontsize{16}{18}\selectfont,text=axgray,at={(axis description cs:-0.12,0.5)},anchor=south},
    title style={font=\bfseries\fontsize{15}{17}\selectfont,text=black!85,yshift=-3pt},
    colormap/jet, point meta min=3, point meta max=7, axis on top,
  },
  cbar/.style={
    scale only axis, width=27pt, xmin=0, xmax=1, ymin=3, ymax=7, xtick=\empty,
    ytick={3,4,5,6,7}, yticklabels={3,4,5,6,7},
    ytick pos=right, yticklabel pos=right, tick align=inside, major tick length=2pt,
    axis line style={axgray,line width=0.6pt}, tick style={axgray}, axis on top,
    y tick label style={font=\fontsize{12.5}{14}\selectfont,text=axgray},
    colormap/jet, point meta min=3, point meta max=7,
    ylabel={Log\lsub{10} Ions.cm\lsup{-2}.s\lsup{-1}},
    ylabel style={font=\fontsize{14}{16}\selectfont,text=axgray,at={(axis description cs:2.17,0.5)},anchor=center},
  },
  levelbars/.style={only marks, scatter, point meta=y, mark=-, mark size=14pt, line width=1.6pt,
    scatter/use mapped color={draw=mapped color,fill=mapped color}},
  cellsq/.style={only marks, scatter, point meta=\thisrow{c}, mark=square*, mark size=4.4pt,
    scatter/use mapped color={draw=mapped color,fill=mapped color}},
  flow/.style={black, line width=0.5pt,
    quiver={u=\thisrow{u},v=\thisrow{v},
      every arrow/.append style={-{Stealth[length=4pt,width=3pt]}}}},
  thickline/.style={black, line width=2.3pt, smooth, no marks},
  dashline/.style={black, line width=2pt, smooth, no marks, dash pattern=on 5pt off 10pt},
}
\begin{document}
\begin{tikzpicture}
\path[use as bounding box] (0,0) rectangle (330pt,402pt);
\begin{axis}[flux, at={(46.5pt,247.5pt)}, anchor=south west, height=128.25pt, title={+E hemisphere}]
\addplot[cellsq] table[x=x,y=y]{\cellsA};
\addplot[flow] table[x=x,y=y]{\arrowsA};
\addplot[dashline] coordinates {(-2.5,2.14)(-2.0,2.06)(-1.5,1.98)(-1.0,1.82)(-0.5,1.62)(0,1.42)(0.5,1.2)(0.85,1.0)(1.05,0.72)(1.18,0.45)(1.26,0.2)(1.28,0.02)};
\addplot[thickline] coordinates {(-0.47,3.0)(-0.1,2.82)(0.14,2.65)(0.49,2.3)(0.9,1.8)(1.22,1.27)(1.43,0.87)(1.57,0.4)(1.63,0)};
\addplot[thickline] coordinates {(-1,0)(-0.966,0.259)(-0.866,0.5)(-0.707,0.707)(-0.5,0.866)(-0.259,0.966)(0,1)(0.259,0.966)(0.5,0.866)(0.707,0.707)(0.866,0.5)(0.966,0.259)(1,0)};
\end{axis}
\begin{axis}[cbar, at={(261.75pt,247.5pt)}, anchor=south west, height=128.25pt]
\addplot[levelbars] table[x=x,y=y]{\levels};
\end{axis}
\begin{axis}[flux, at={(46.5pt,47pt)}, anchor=south west, height=126.75pt, title={-E hemisphere}]
\addplot[cellsq] table[x=x,y=y]{\cellsB};
\addplot[flow] table[x=x,y=y]{\arrowsB};
\addplot[dashline] coordinates {(-2.5,2.14)(-2.0,2.06)(-1.5,1.98)(-1.0,1.82)(-0.5,1.62)(0,1.42)(0.5,1.2)(0.85,1.0)(1.05,0.72)(1.18,0.45)(1.26,0.2)(1.28,0.02)};
\addplot[thickline] coordinates {(-0.47,3.0)(-0.1,2.82)(0.14,2.65)(0.49,2.3)(0.9,1.8)(1.22,1.27)(1.43,0.87)(1.57,0.4)(1.63,0)};
\addplot[thickline] coordinates {(-1,0)(-0.966,0.259)(-0.866,0.5)(-0.707,0.707)(-0.5,0.866)(-0.259,0.966)(0,1)(0.259,0.966)(0.5,0.866)(0.707,0.707)(0.866,0.5)(0.966,0.259)(1,0)};
\end{axis}
\begin{axis}[cbar, at={(261.75pt,47pt)}, anchor=south west, height=126.75pt]
\addplot[levelbars] table[x=x,y=y]{\levels};
\end{axis}
\end{tikzpicture}
\end{document}
